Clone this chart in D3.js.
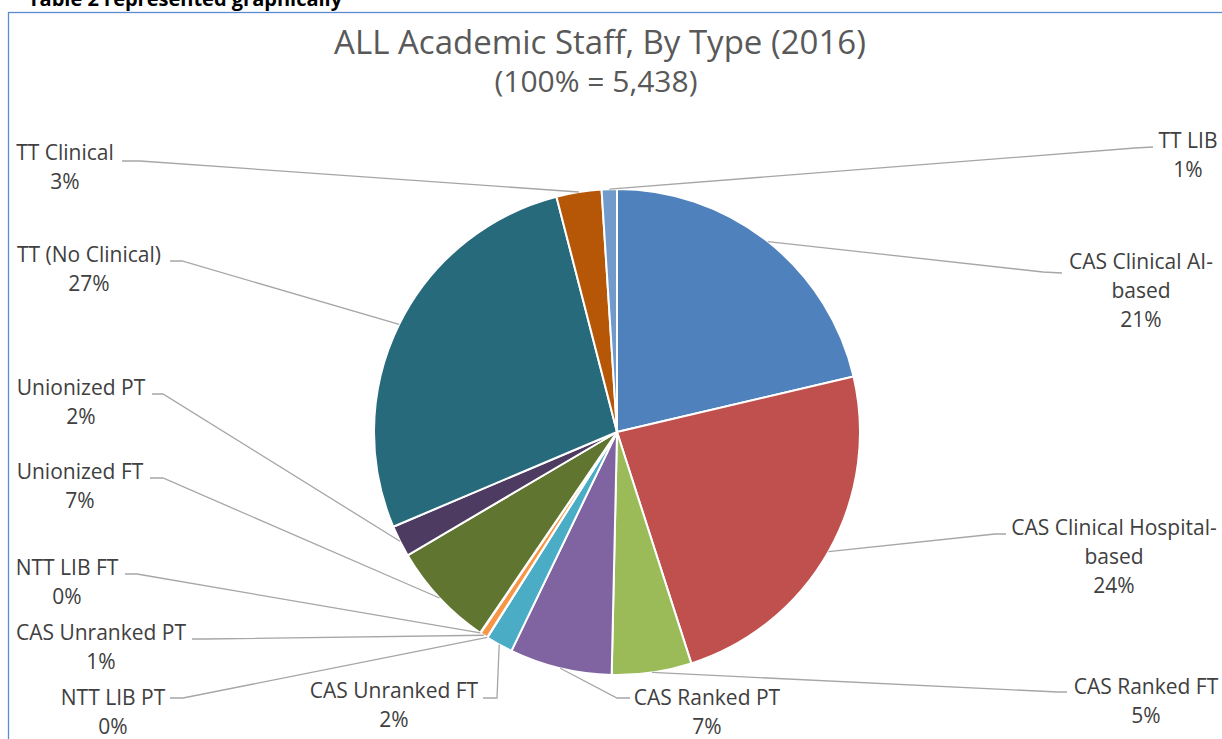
<!DOCTYPE html>
<html>
<head>
<meta charset="utf-8">
<script src="https://cdn.jsdelivr.net/npm/d3@7"></script>
<style>
  body { margin: 0; background: #fff; }
  text { font-family: "Open Sans", Lato, sans-serif; }
</style>
</head>
<body>
<div class="canvas"></div>
<script>
// staff by type, 2016 (counts, total 5,438)
const categories = [
    "CAS Clinical AI-based", "CAS Clinical Hospital-based", "CAS Ranked FT", "CAS Ranked PT",
    "CAS Unranked FT", "NTT LIB PT", "CAS Unranked PT", "NTT LIB FT",
    "Unionized FT", "Unionized PT", "TT (No Clinical)", "TT Clinical", "TT LIB"
];
const staff = [1160, 1290, 288, 370, 98, 1, 28, 2, 381, 114, 1488, 163, 55];
const sliceColors = [
    "#4F81BD", "#C0504D", "#9BBB59", "#8064A2", "#4BACC6", "#2C4D75", "#F79646",
    "#772C2A", "#5F7530", "#4D3B62", "#276A7C", "#B65708", "#729ACA"
];

// where each data label sits (center x, first line y) + leader elbow/end
const labelPos = [
    {x: 1141, y: 262, elbow: [1043, 272], end: [1062, 273]},
    {x: 1114, y: 528, elbow: [995, 534], end: [1006, 534]},
    {x: 1146, y: 687, elbow: [1058, 692], end: [1067, 692]},
    {x: 707, y: 698, elbow: [617, 698], end: [630, 698]},
    {x: 394, y: 691, elbow: [497, 698], end: [483, 698]},
    {x: 113, y: 698, elbow: [183, 698], end: [170, 698]},
    {x: 101, y: 633, elbow: [205, 639], end: [192, 639]},
    {x: 67, y: 568, elbow: [137, 574], end: [125, 574]},
    {x: 80, y: 472, elbow: [163, 478], end: [150, 478]},
    {x: 81, y: 388, elbow: [163, 394], end: [152, 394]},
    {x: 89, y: 255, elbow: [182, 261], end: [170, 261]},
    {x: 65, y: 153, elbow: [140, 161], end: [122, 161]},
    {x: 1188, y: 141, elbow: [1135, 148], end: [1153, 147]}
];

const dims = {width: 1222, height: 739};
const cent = {x: 617, y: 432};
const radius = 243;
const lineH = 29;

const svg = d3.select(".canvas").append("svg")
    .attr("width", dims.width)
    .attr("height", dims.height);

// heading above the chart box
svg.append("text")
    .attr("x", 28)
    .attr("y", 6)
    .attr("font-size", 20)
    .attr("font-weight", "bold")
    .attr("fill", "#000")
    .text("Table 2 represented graphically");

// chart frame (runs off right/bottom)
svg.append("rect")
    .attr("x", 8.5)
    .attr("y", 12.5)
    .attr("width", 1240)
    .attr("height", 760)
    .attr("fill", "#fff")
    .attr("stroke", "#5B8BD0")
    .attr("stroke-width", 1.3);

const total = d3.sum(staff);
const pct = d3.format(".0%");

svg.append("text")
    .attr("x", 600)
    .attr("y", 42)
    .attr("dy", "0.35em")
    .attr("text-anchor", "middle")
    .attr("font-size", 33)
    .attr("fill", "#595959")
    .text("ALL Academic Staff, By Type (2016)");

svg.append("text")
    .attr("x", 596)
    .attr("y", 81)
    .attr("dy", "0.35em")
    .attr("text-anchor", "middle")
    .attr("font-size", 30)
    .attr("fill", "#595959")
    .text(`(100% = ${d3.format(",")(total)})`);

const data = categories.map((name, i) => ({name, value: staff[i], color: sliceColors[i], pos: labelPos[i]}));

const pie = d3.pie()
    .sort(null)
    .value(d => d.value);

const arc = d3.arc()
    .innerRadius(0)
    .outerRadius(radius);

// point on the rim at the slice's mid angle
const rim = d3.arc()
    .innerRadius(radius)
    .outerRadius(radius);

const arcs = pie(data);

const graph = svg.append("g")
    .attr("transform", `translate(${cent.x}, ${cent.y})`);

graph.selectAll(".slice")
    .data(arcs)
    .enter().append("path")
    .attr("class", "slice")
    .attr("d", arc)
    .attr("fill", d => d.data.color)
    .attr("stroke", "#fff")
    .attr("stroke-width", 2)
    .attr("stroke-linejoin", "round");

// leader lines
svg.selectAll(".leader")
    .data(arcs)
    .enter().append("polyline")
    .attr("class", "leader")
    .attr("fill", "none")
    .attr("stroke", "#A6A6A6")
    .attr("stroke-width", 1.3)
    .attr("points", d => {
        const c = rim.centroid(d);
        const p = d.data.pos;
        return [[c[0] + cent.x, c[1] + cent.y], p.elbow, p.end].map(q => q.join(",")).join(" ");
    });

// data labels: name (wrapped after hyphen) + percentage
const labels = svg.selectAll(".label")
    .data(arcs)
    .enter().append("text")
    .attr("class", "label")
    .attr("text-anchor", "middle")
    .attr("font-size", 21)
    .attr("fill", "#404040");

labels.each(function(d) {
    const lines = d.data.name.split(/(?<=-)/).concat(pct(d.value / total));
    d3.select(this).selectAll("tspan")
        .data(lines)
        .enter().append("tspan")
        .attr("x", d.data.pos.x)
        .attr("y", (t, i) => d.data.pos.y + i * lineH)
        .attr("dy", "0.35em")
        .text(t => t);
});
</script>
</body>
</html>
